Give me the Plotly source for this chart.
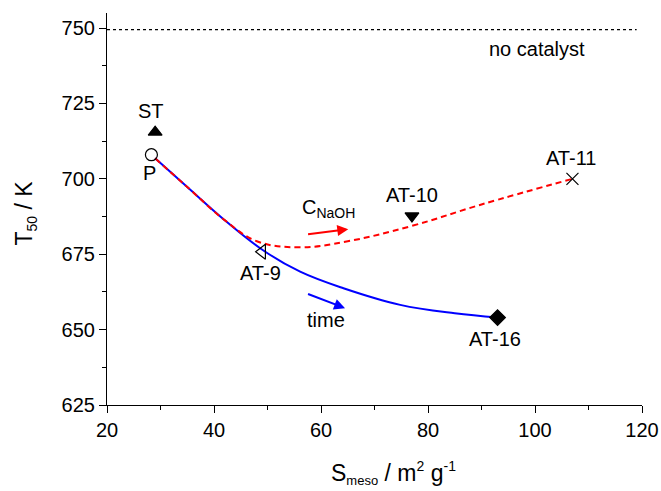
import plotly.graph_objects as go

# --- data ---
pt_names = ["P", "ST", "AT-9", "AT-10", "AT-11", "AT-16"]
pt_x = [28.3, 29.0, 49.0, 77.0, 107.0, 93.0]
pt_y = [708.0, 715.5, 675.8, 687.7, 700.0, 654.0]
pt_symbols = ["circle-open", "triangle-up", "triangle-left-open", "triangle-down", "x-thin-open", "diamond"]
pt_sizes = [12, 12, 13, 12, 12, 12]

time_x = [29.0, 35.0, 42.0, 49.1, 56.1, 64.2, 74.8, 85.0, 93.0]
time_y = [706.8, 697.3, 686.3, 676.4, 669.2, 663.7, 658.2, 655.4, 654.0]

naoh_x = [29.0, 35.0, 42.0, 48.0, 56.0, 65.0, 77.0, 90.0, 107.0]
naoh_y = [706.8, 697.3, 686.3, 679.3, 677.3, 679.3, 684.4, 691.5, 700.0]

nocat_x = [20.0, 119.0]
nocat_y = [749.5, 749.5]

label_text = ["ST", "P", "AT-9", "AT-10", "AT-11", "AT-16", "no catalyst"]
label_x = [28.3, 28.0, 48.6, 77.0, 106.7, 92.6, 100.3]
label_y = [722.5, 702.0, 668.9, 694.6, 706.8, 646.8, 742.9]

x_ticks = [20, 40, 60, 80, 100, 120]
y_ticks = [625, 650, 675, 700, 725, 750]

FONT = "Liberation Sans, Arial, sans-serif"

fig = go.Figure()

fig.add_trace(go.Scatter(x=nocat_x, y=nocat_y, mode="lines",
                         line=dict(color="black", width=1.2, dash="dot"),
                         showlegend=False, hoverinfo="skip"))
fig.add_trace(go.Scatter(x=time_x, y=time_y, mode="lines",
                         line=dict(color="#0000ff", width=2, shape="spline", smoothing=1.1),
                         showlegend=False))
fig.add_trace(go.Scatter(x=naoh_x, y=naoh_y, mode="lines",
                         line=dict(color="#ff0000", width=2, dash="6px,4px", shape="spline", smoothing=1.1),
                         showlegend=False))
for name, x, y, sym, sz in zip(pt_names, pt_x, pt_y, pt_symbols, pt_sizes):
    fig.add_trace(go.Scatter(x=[x], y=[y], mode="markers", name=name,
                             marker=dict(symbol=sym, size=sz, color="#000000", opacity=1,
                                         line=dict(color="#000000", width=1.2)),
                             showlegend=False))

for t, x, y in zip(label_text, label_x, label_y):
    fig.add_annotation(x=x, y=y, text=t, showarrow=False,
                       font=dict(family=FONT, size=20, color="black"))

# direction arrows
fig.add_annotation(x=65.1, y=683.3, ax=57.3, ay=681.6, xref="x", yref="y",
                   axref="x", ayref="y", text="", showarrow=True,
                   arrowhead=2, arrowsize=1.1, arrowwidth=2, arrowcolor="#ff0000")
fig.add_annotation(x=64.5, y=657.1, ax=57.3, ay=662.0, xref="x", yref="y",
                   axref="x", ayref="y", text="", showarrow=True,
                   arrowhead=2, arrowsize=1.1, arrowwidth=2, arrowcolor="#0000ff")
fig.add_annotation(x=56.0, y=690.3, text="C<sub>NaOH</sub>", showarrow=False,
                   xanchor="left", font=dict(family=FONT, size=20, color="black"))
fig.add_annotation(x=60.9, y=653.2, text="time", showarrow=False,
                   font=dict(family=FONT, size=20, color="black"))

# axis titles
fig.add_annotation(x=0.535, y=-0.13, xref="paper", yref="paper", yanchor="top",
                   text="S<sub><span style='font-size:13px'>meso</span></sub> / m<sup><span style='font-size:14px'>2</span></sup> g<sup><span style='font-size:14px'>-1</span></sup>",
                   showarrow=False, font=dict(family=FONT, size=23, color="black"))
fig.add_annotation(x=-0.183, y=0.49, xref="paper", yref="paper", textangle=-90,
                   text="T<sub><span style='font-size:14px'>50</span></sub> / K", showarrow=False,
                   font=dict(family=FONT, size=23, color="black"))

axis_common = dict(showgrid=False, zeroline=False, showline=True, linecolor="black",
                   linewidth=1.2, ticks="outside", ticklen=7, tickwidth=1.2,
                   tickcolor="black", tickfont=dict(family=FONT, size=20, color="black"),
                   mirror=False, automargin=False)

fig.update_xaxes(range=[20, 120], tickmode="array", tickvals=x_ticks,
                 minor=dict(ticks="outside", ticklen=4, tickwidth=1.2, tickcolor="black", dtick=10),
                 **axis_common)
fig.update_yaxes(range=[625, 755], tickmode="array", tickvals=y_ticks,
                 minor=dict(ticks="outside", ticklen=4, tickwidth=1.2, tickcolor="black", dtick=12.5, tick0=625),
                 **axis_common)

fig.update_layout(template="none", width=661, height=491,
                  margin=dict(l=107, r=19, t=13, b=86),
                  plot_bgcolor="white", paper_bgcolor="white",
                  font=dict(family=FONT, color="black"))

fig.write_html("out.html")
